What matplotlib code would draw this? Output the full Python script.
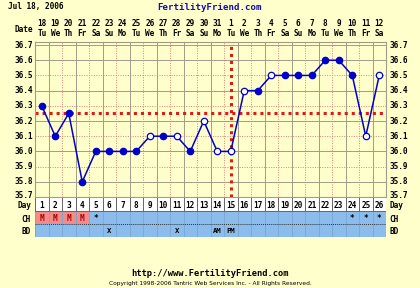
import matplotlib
matplotlib.use("Agg")
import matplotlib.pyplot as plt
from matplotlib.patches import Rectangle

# chart data
cycle_days = list(range(1, 27))
dates = [18, 19, 20, 21, 22, 23, 24, 25, 26, 27, 28, 29, 30, 31,
         1, 2, 3, 4, 5, 6, 7, 8, 9, 10, 11, 12]
weekdays = ["Tu", "We", "Th", "Fr", "Sa", "Su", "Mo"] * 4
temps = [36.3, 36.1, 36.25, 35.8, 36.0, 36.0, 36.0, 36.0, 36.1, 36.1,
         36.1, 36.0, 36.2, 36.0, 36.0, 36.4, 36.4, 36.5, 36.5, 36.5,
         36.5, 36.6, 36.6, 36.5, 36.1, 36.5]
filled = [1, 1, 1, 1, 1, 1, 1, 1, 0, 1, 0, 1, 0, 0, 0, 0, 1, 0, 1, 1,
          1, 1, 1, 1, 0, 0]
y_ticks = [35.7, 35.8, 35.9, 36.0, 36.1, 36.2, 36.3, 36.4, 36.5, 36.6, 36.7]
coverline = 36.25
ovulation_day = 15
ch_marks = {1: "M", 2: "M", 3: "M", 4: "M", 5: "*", 24: "*", 25: "*", 26: "*"}
bd_marks = {6: "X", 11: "X", 14: "AM", 15: "PM"}

W, H = 420, 288
bg = "#FFFFCC"
grid_grey = "#A09C88"
grid_red = "#E08080"
line_blue = "#0000CC"
band_blue = "#8CBCEC"
pink = "#F08C8C"
mono = "DejaVu Sans Mono"
fs = 5.6

fig = plt.figure(figsize=(W / 100, H / 100), dpi=100, facecolor=bg)


def px(x0, y0, x1, y1):
    return [x0 / W, 1 - y1 / H, (x1 - x0) / W, (y1 - y0) / H]


ax = fig.add_axes(px(35, 42, 386, 197))
ax.set_facecolor(bg)
ax.set_xlim(0.5, 26.5)
ax.set_ylim(35.7, 36.72)
for s in ax.spines.values():
    s.set_color(grid_grey)
    s.set_linewidth(0.8)
ax.set_xticks([])
ax.set_yticks([])

# grid
for i, v in enumerate(y_ticks[1:-1]):
    if i % 2 == 0:
        ax.axhline(v, color=grid_grey, lw=0.7, zorder=1)
    else:
        ax.axhline(v, color=grid_red, lw=0.7, ls=(0, (1, 1.5)), zorder=1)
ax.axhline(36.7, color=grid_grey, lw=0.7, zorder=1)
for k in range(1, 26):
    if k % 2 == 1:
        ax.axvline(k + 0.5, color=grid_grey, lw=0.7, zorder=1)
    else:
        ax.axvline(k + 0.5, color=grid_red, lw=0.7, ls=(0, (1, 1.5)), zorder=1)

# coverline and ovulation line
ax.axhline(coverline, color="#E01818", lw=2.2, ls=(0, (1, 1.3)), zorder=2)
ax.axvline(ovulation_day, color="#E01818", lw=2.2, ls=(0, (1, 1.3)), zorder=2)

ax.plot(cycle_days, temps, color=line_blue, lw=1.1, zorder=3)
for d, t, f in zip(cycle_days, temps, filled):
    ax.plot(d, t, "o", ms=4.6, mew=0.9, mec=line_blue,
            mfc=line_blue if f else "white", zorder=4)

# y labels both sides
for v in y_ticks:
    y = ax.transData.transform((0, v))[1]
    if v == y_ticks[0]:
        y += 2
    fig.text(33 / W, y / fig.bbox.height, f"{v:.1f}", ha="right", va="center",
             fontsize=fs, family=mono, weight="bold")
    fig.text(389 / W, y / fig.bbox.height, f"{v:.1f}", ha="left", va="center",
             fontsize=fs, family=mono, weight="bold")

# header
fig.text(8 / W, 1 - 7 / H, "Jul 18, 2006", ha="left", va="center",
         fontsize=5.6, family=mono, weight="bold")
fig.text(210 / W, 1 - 7 / H, "FertilityFriend.com", ha="center", va="center",
         fontsize=6.6, family=mono, weight="bold", color="#1010B0")
fig.text(33 / W, 1 - 29 / H, "Date", ha="right", va="center",
         fontsize=fs, family=mono, weight="bold")
for d, dt, wd in zip(cycle_days, dates, weekdays):
    x = ax.transData.transform((d, 0))[0] / fig.bbox.width
    fig.text(x, 1 - 24 / H, str(dt), ha="center", va="center",
             fontsize=fs, family=mono, weight="bold")
    fig.text(x, 1 - 33.5 / H, wd, ha="center", va="center",
             fontsize=fs, family=mono, weight="bold")

# Day / CH / BD rows
rows = fig.add_axes(px(35, 198, 386, 237))
rows.set_xlim(0.5, 26.5)
rows.set_ylim(0, 3)
rows.axis("off")
rows.add_patch(Rectangle((0.5, 2), 26, 1, fc="white", ec="none"))
rows.add_patch(Rectangle((0.5, 0), 26, 2, fc=band_blue, ec="none"))
for d in cycle_days:
    if ch_marks.get(d) == "M":
        rows.add_patch(Rectangle((d - 0.5, 1), 1, 1, fc=pink, ec="none"))
for k in range(0, 27):
    rows.plot([k + 0.5, k + 0.5], [2, 3], color="#666666", lw=0.7)
    rows.plot([k + 0.5, k + 0.5], [0, 2], color="#7AA6D2", lw=0.6)
rows.plot([0.5, 26.5], [1, 1], color="#333333", lw=0.7, ls=(0, (1, 1)))
rows.plot([0.5, 26.5], [2, 2], color="#666666", lw=0.7)
for d in cycle_days:
    rows.text(d, 2.45, str(d), ha="center", va="center", fontsize=fs,
              family=mono, weight="bold")
for d, m in ch_marks.items():
    rows.text(d, 1.45, m, ha="center", va="center", fontsize=fs, family=mono,
              weight="bold", color="#B00000" if m == "M" else "black")
for d, m in bd_marks.items():
    rows.text(d, 0.45, m, ha="center", va="center", fontsize=5.2, family=mono,
              weight="bold")
for label, yy in [("Day", 206), ("CH", 219), ("BD", 231)]:
    fig.text(31 / W, 1 - yy / H, label, ha="right", va="center", fontsize=fs,
             family=mono, weight="bold")
    fig.text(389 / W, 1 - yy / H, label, ha="left", va="center", fontsize=fs,
             family=mono, weight="bold")

# footer
fig.text(210 / W, 1 - 273 / H, "http://www.FertilityFriend.com", ha="center",
         va="center", fontsize=6.3, family=mono, weight="bold")
fig.text(210 / W, 1 - 283 / H,
         "Copyright 1998-2006 Tantric Web Services Inc. - All Rights Reserved.",
         ha="center", va="center", fontsize=4.2, family="DejaVu Sans")

fig.savefig("out.png", dpi=100, facecolor=bg)
